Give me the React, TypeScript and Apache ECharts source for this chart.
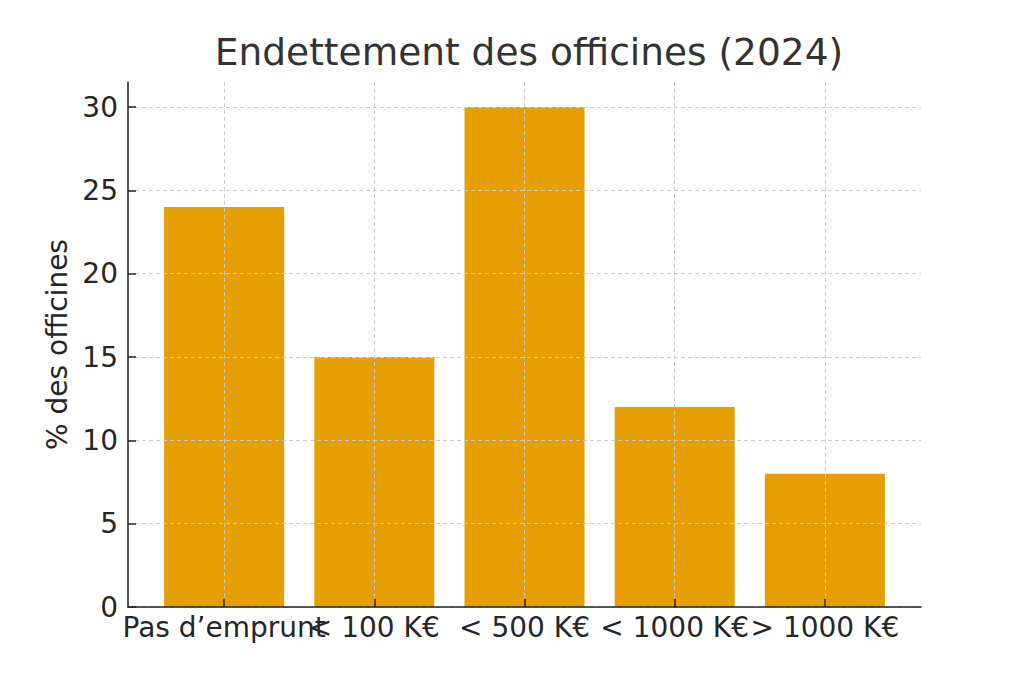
import React, { useEffect, useRef } from "react";
import * as echarts from "echarts";

const categories = ["Pas d\u2019emprunt", "< 100 K\u20ac", "< 500 K\u20ac", "< 1000 K\u20ac", "> 1000 K\u20ac"];
const values = [24, 15, 30, 12, 8];
const yTicks = [0, 5, 10, 15, 20, 25, 30];
const xMin = -0.64;
const xMax = 4.64;
const xTicks = [xMin, 0, 1, 2, 3, 4, xMax];

const FONT = "DejaVu Sans";
const TEXT = "#262626";

export default function App() {
  const ref = useRef<HTMLDivElement>(null);
  useEffect(() => {
    if (!ref.current) return;
    const chart = echarts.init(ref.current, undefined, { renderer: "svg" });
    chart.setOption({
      animation: false,
      backgroundColor: "#ffffff",
      title: {
        text: "Endettement des officines (2024)",
        left: 524,
        top: 28,
        textAlign: "center",
        textStyle: { fontFamily: FONT, fontSize: 37.5, fontWeight: "normal", color: "#333333" },
      },
      grid: { left: 128, top: 82, width: 793, height: 525, containLabel: false },
      xAxis: {
        type: "value",
        min: xMin,
        max: xMax,
        z: 5,
        axisLine: { show: true, onZero: false, lineStyle: { color: "#222222", width: 1.5 } },
        axisTick: { show: true, inside: true, customValues: xTicks, length: 8, lineStyle: { color: "#222222", width: 1.5 } },
        axisLabel: {
          customValues: xTicks,
          formatter: (v: number) => (Number.isInteger(v) ? categories[v] ?? "" : ""),
          fontFamily: FONT,
          fontSize: 28,
          color: TEXT,
          margin: 6,
          hideOverlap: false,
          showMinLabel: false,
          showMaxLabel: false,
        },
        splitLine: { show: true, showMinLine: false, showMaxLine: false, lineStyle: { color: "#cccccc", type: [4, 3], width: 1 } },
      },
      yAxis: {
        type: "value",
        min: 0,
        max: 31.5,
        z: 5,
        name: "% des officines",
        nameLocation: "middle",
        nameRotate: 90,
        nameGap: 54,
        nameTextStyle: { fontFamily: FONT, fontSize: 28, color: TEXT },
        axisLine: { show: true, onZero: false, lineStyle: { color: "#222222", width: 1.5 } },
        axisTick: { show: true, inside: true, customValues: yTicks, length: 8, lineStyle: { color: "#222222", width: 1.5 } },
        axisLabel: {
          customValues: yTicks,
          fontFamily: FONT,
          fontSize: 28,
          color: TEXT,
          margin: 10,
          showMinLabel: true,
          showMaxLabel: true,
        },
        splitLine: { show: true, lineStyle: { color: "#cccccc", type: [4, 3], width: 1 } },
      },
      series: [
        {
          type: "bar",
          data: values.map((v, i) => [i, v]),
          barWidth: 120,
          clip: false,
          itemStyle: { color: "#E69F00" },
          z: 1,
        },
      ],
    });
    return () => chart.dispose();
  }, []);
  return <div ref={ref} style={{ position: "fixed", left: 0, top: 0, width: 1024, height: 683 }} />;
}
